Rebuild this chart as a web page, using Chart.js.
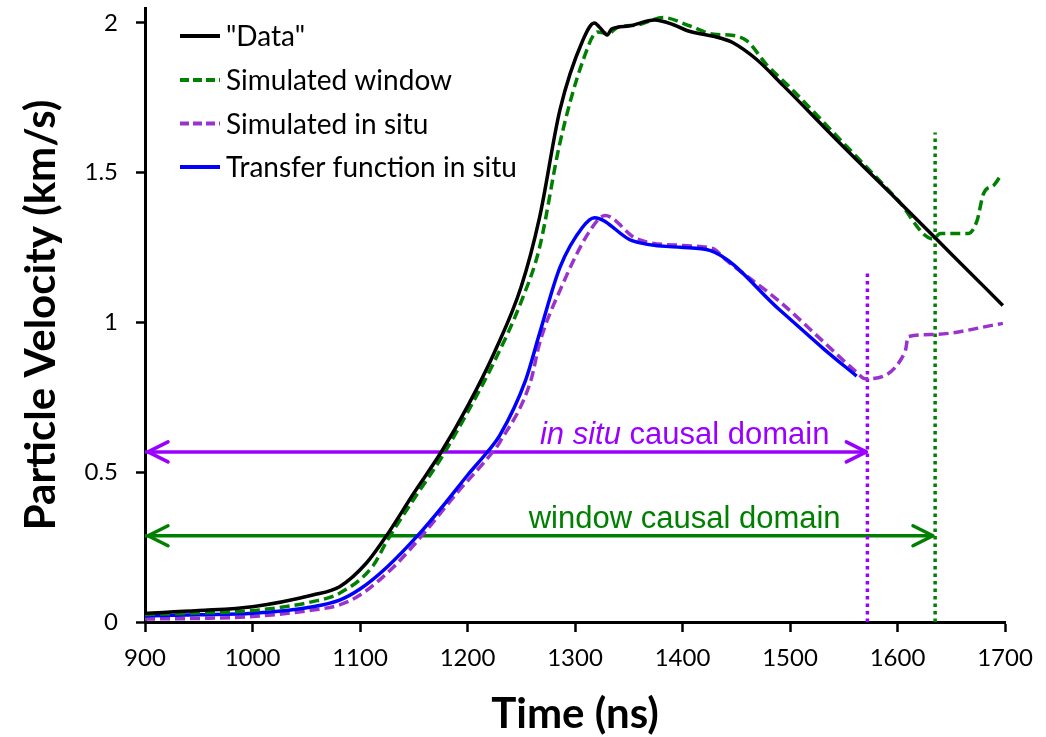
<!DOCTYPE html>
<html>
<head>
<meta charset="utf-8">
<script src="https://cdn.jsdelivr.net/npm/chart.js@4.4.1/dist/chart.umd.min.js"></script>
<style>
  html, body { margin: 0; padding: 0; background: #fff; }
  #wrap { width: 1046px; height: 737px; }
</style>
</head>
<body>
<div id="wrap"><canvas id="c" width="1046" height="737"></canvas></div>
<script>
// Measured particle velocity ("Data") — time in ns, velocity in km/s
const dataTime = [900, 950, 1000, 1056, 1081, 1106, 1125, 1150, 1176, 1200, 1225, 1250, 1267, 1286, 1307, 1318, 1323, 1330, 1334, 1350, 1374, 1391, 1404, 1435, 1447, 1469, 1494, 1546, 1600, 1650, 1698];
const dataVel  = [0.029, 0.038, 0.051, 0.09, 0.118, 0.197, 0.29, 0.43, 0.57, 0.72, 0.9, 1.12, 1.35, 1.71, 1.94, 2.0, 1.985, 1.96, 1.98, 1.99, 2.01, 1.995, 1.975, 1.95, 1.934, 1.878, 1.79, 1.60, 1.408, 1.229, 1.057];

// Simulated window velocity
const windowTime = [900, 950, 1000, 1056, 1081, 1112, 1125, 1150, 1176, 1200, 1225, 1250, 1267, 1286, 1307, 1321, 1331, 1339, 1360, 1382, 1407, 1429, 1446, 1460, 1478, 1500, 1546, 1600, 1633, 1640, 1666, 1674, 1680, 1690, 1697];
const windowVel  = [0.025, 0.03, 0.038, 0.068, 0.096, 0.187, 0.27, 0.41, 0.55, 0.70, 0.87, 1.07, 1.25, 1.6, 1.87, 1.97, 1.965, 1.984, 1.995, 2.018, 1.99, 1.962, 1.959, 1.94, 1.862, 1.785, 1.613, 1.41, 1.279, 1.297, 1.297, 1.34, 1.43, 1.46, 1.497];

// Simulated in situ velocity
const inSituTime = [900, 950, 1000, 1056, 1081, 1100, 1131, 1158, 1190, 1224, 1230, 1259, 1267, 1286, 1314, 1328, 1357, 1401, 1428, 1441, 1491, 1531, 1562, 1570, 1607, 1610, 1633, 1698];
const inSituVel  = [0.01, 0.012, 0.018, 0.04, 0.057, 0.09, 0.183, 0.29, 0.43, 0.57, 0.6, 0.807, 0.93, 1.107, 1.307, 1.357, 1.28, 1.257, 1.247, 1.207, 1.068, 0.936, 0.834, 0.812, 0.901, 0.953, 0.96, 0.997];

// Transfer function in situ velocity
const transferTime = [900, 950, 1000, 1056, 1081, 1100, 1125, 1154, 1180, 1200, 1219, 1230, 1254, 1267, 1286, 1307, 1318, 1353, 1398, 1426, 1491, 1531, 1562];
const transferVel  = [0.02, 0.024, 0.029, 0.051, 0.073, 0.11, 0.183, 0.29, 0.4, 0.49, 0.57, 0.623, 0.807, 0.963, 1.184, 1.318, 1.35, 1.273, 1.251, 1.24, 1.04, 0.913, 0.821];

// Causal domain limits (ns) and the levels of their arrows / marker tops (km/s)
const inSituDomainEnd = 1572;
const windowDomainEnd = 1635;
const inSituArrowLevel = 0.568;
const windowArrowLevel = 0.288;
const inSituMarkerTop = 1.168;
const windowMarkerTop = 1.634;
const domainLabelCenter = 1402;

// Axis ticks
const timeTicks = [900, 1000, 1100, 1200, 1300, 1400, 1500, 1600, 1700];
const velocityTicks = [0, 0.5, 1, 1.5, 2];

const seriesLabels = ['"Data"', 'Simulated window', 'Simulated in situ', 'Transfer function in situ'];

const zip = (xs, ys) => xs.map((x, i) => ({ x: x, y: ys[i] }));

const GREEN = '#008000';
const VIOLET = '#9933cc';
const BRIGHT_VIOLET = '#9900ff';
const UI_FONT = 'Lato, "Open Sans", sans-serif';

const curve = { cubicInterpolationMode: 'monotone', inLegend: true };

const datasets = [
  Object.assign({ label: seriesLabels[0], data: zip(dataTime, dataVel), borderColor: '#000', borderWidth: 3.5, order: 1 }, curve),
  Object.assign({ label: seriesLabels[1], data: zip(windowTime, windowVel), borderColor: GREEN, borderWidth: 3.5, borderDash: [10, 5], order: 2 }, curve),
  Object.assign({ label: seriesLabels[2], data: zip(inSituTime, inSituVel), borderColor: VIOLET, borderWidth: 3.5, borderDash: [10, 5], order: 3 }, curve),
  Object.assign({ label: seriesLabels[3], data: zip(transferTime, transferVel), borderColor: '#0000ff', borderWidth: 3.5, order: 2 }, curve),
  // causal-domain markers
  { label: 'in situ limit', data: [{ x: inSituDomainEnd, y: 0 }, { x: inSituDomainEnd, y: inSituMarkerTop }], borderColor: BRIGHT_VIOLET, borderWidth: 3.5, borderDash: [3.5, 4], order: 5 },
  { label: 'window limit', data: [{ x: windowDomainEnd, y: 0 }, { x: windowDomainEnd, y: windowMarkerTop }], borderColor: GREEN, borderWidth: 3.5, borderDash: [3.5, 4], order: 5 },
  { label: 'in situ domain', data: [{ x: 900, y: inSituArrowLevel }, { x: inSituDomainEnd - 1, y: inSituArrowLevel }], borderColor: BRIGHT_VIOLET, borderWidth: 3.5, order: 6, arrows: true },
  { label: 'window domain', data: [{ x: 900, y: windowArrowLevel }, { x: windowDomainEnd - 2, y: windowArrowLevel }], borderColor: GREEN, borderWidth: 3.5, order: 6, arrows: true }
];

// Chevron heads on both ends of the domain arrows
const arrowHeads = {
  id: 'arrowHeads',
  afterDatasetsDraw(chart) {
    const { ctx, scales: { x, y } } = chart;
    chart.data.datasets.forEach(ds => {
      if (!ds.arrows) return;
      const py = y.getPixelForValue(ds.data[0].y);
      const x0 = x.getPixelForValue(ds.data[0].x) + 3;
      const x1 = x.getPixelForValue(ds.data[1].x);
      ctx.save();
      ctx.strokeStyle = ds.borderColor;
      ctx.lineWidth = 3.5;
      ctx.lineCap = 'round';
      ctx.lineJoin = 'round';
      ctx.beginPath();
      ctx.moveTo(x0 + 20, py - 10); ctx.lineTo(x0, py); ctx.lineTo(x0 + 20, py + 10);
      ctx.moveTo(x1 - 20, py - 10); ctx.lineTo(x1, py); ctx.lineTo(x1 - 20, py + 10);
      ctx.stroke();
      ctx.restore();
    });
  }
};

// Labels above the domain arrows
const domainLabels = {
  id: 'domainLabels',
  afterDatasetsDraw(chart) {
    const { ctx, scales: { x, y } } = chart;
    const cx = x.getPixelForValue(domainLabelCenter);
    const size = 31;
    const italic = 'italic ' + size + 'px "Liberation Sans", Arial, sans-serif';
    const normal = size + 'px "Liberation Sans", Arial, sans-serif';
    ctx.save();
    ctx.textBaseline = 'alphabetic';
    ctx.textAlign = 'left';
    // in situ causal domain
    ctx.font = italic;
    const w1 = ctx.measureText('in situ').width;
    ctx.font = normal;
    const w2 = ctx.measureText(' causal domain').width;
    const left = cx - (w1 + w2) / 2;
    const yIn = y.getPixelForValue(inSituArrowLevel) - 8;
    ctx.fillStyle = BRIGHT_VIOLET;
    ctx.font = italic;
    ctx.fillText('in situ', left, yIn);
    ctx.font = normal;
    ctx.fillText(' causal domain', left + w1, yIn);
    // window causal domain
    ctx.fillStyle = GREEN;
    ctx.textAlign = 'center';
    ctx.fillText('window causal domain', cx, y.getPixelForValue(windowArrowLevel) - 8);
    ctx.restore();
  }
};

// Series key in the upper-left corner of the plot
const seriesKey = {
  id: 'seriesKey',
  afterDraw(chart) {
    const { ctx } = chart;
    const rows = [36, 80, 123.5, 167];
    ctx.save();
    chart.data.datasets.filter(ds => ds.inLegend).forEach((ds, i) => {
      const yy = rows[i];
      ctx.strokeStyle = ds.borderColor;
      ctx.lineWidth = 4;
      ctx.setLineDash(ds.borderDash ? [9, 4] : []);
      ctx.beginPath();
      ctx.moveTo(180, yy);
      ctx.lineTo(220, yy);
      ctx.stroke();
      ctx.setLineDash([]);
      ctx.fillStyle = '#000';
      ctx.font = '28px ' + UI_FONT;
      ctx.textBaseline = 'middle';
      ctx.fillText(ds.label, 226, yy + 1);
    });
    ctx.restore();
  }
};

new Chart(document.getElementById('c'), {
  type: 'line',
  data: { datasets: datasets },
  plugins: [arrowHeads, domainLabels, seriesKey],
  options: {
    responsive: false,
    devicePixelRatio: 1,
    animation: false,
    layout: { padding: { top: 8, right: 41, bottom: 0, left: 0 } },
    elements: { point: { radius: 0 }, line: { tension: 0, borderCapStyle: 'butt' } },
    plugins: { legend: { display: false }, tooltip: { enabled: false } },
    scales: {
      x: {
        type: 'linear',
        min: 900,
        max: 1700,
        afterBuildTicks: s => { s.ticks = timeTicks.map(v => ({ value: v })); },
        afterFit: s => { s.height = 115; s.paddingLeft = 0; s.paddingRight = 0; },
        grid: { drawOnChartArea: false, drawTicks: true, tickLength: 10, tickWidth: 2.5, tickColor: '#000' },
        border: { display: true, color: '#000', width: 3 },
        ticks: { color: '#000', font: { family: UI_FONT, size: 24 }, padding: 12, maxRotation: 0, autoSkip: false, callback: v => String(v) },
        title: { display: true, text: 'Time (ns)', color: '#000', font: { family: UI_FONT, size: 42, weight: 'bold', lineHeight: 1 }, padding: { top: 0, bottom: 2 } }
      },
      y: {
        type: 'linear',
        min: 0,
        max: 2.05,
        afterBuildTicks: s => { s.ticks = velocityTicks.map(v => ({ value: v })); },
        afterFit: s => { s.width = 145; s.paddingTop = 0; s.paddingBottom = 0; },
        grid: { drawOnChartArea: false, drawTicks: true, tickLength: 9, tickWidth: 2.5, tickColor: '#000' },
        border: { display: true, color: '#000', width: 3 },
        ticks: { color: '#000', font: { family: UI_FONT, size: 24 }, padding: 18, autoSkip: false, callback: v => String(v) },
        title: { display: true, text: 'Particle Velocity (km/s)', color: '#000', font: { family: UI_FONT, size: 42, weight: 'bold', lineHeight: 1 }, padding: { top: 20, bottom: 0 } }
      }
    }
  }
});
</script>
</body>
</html>
